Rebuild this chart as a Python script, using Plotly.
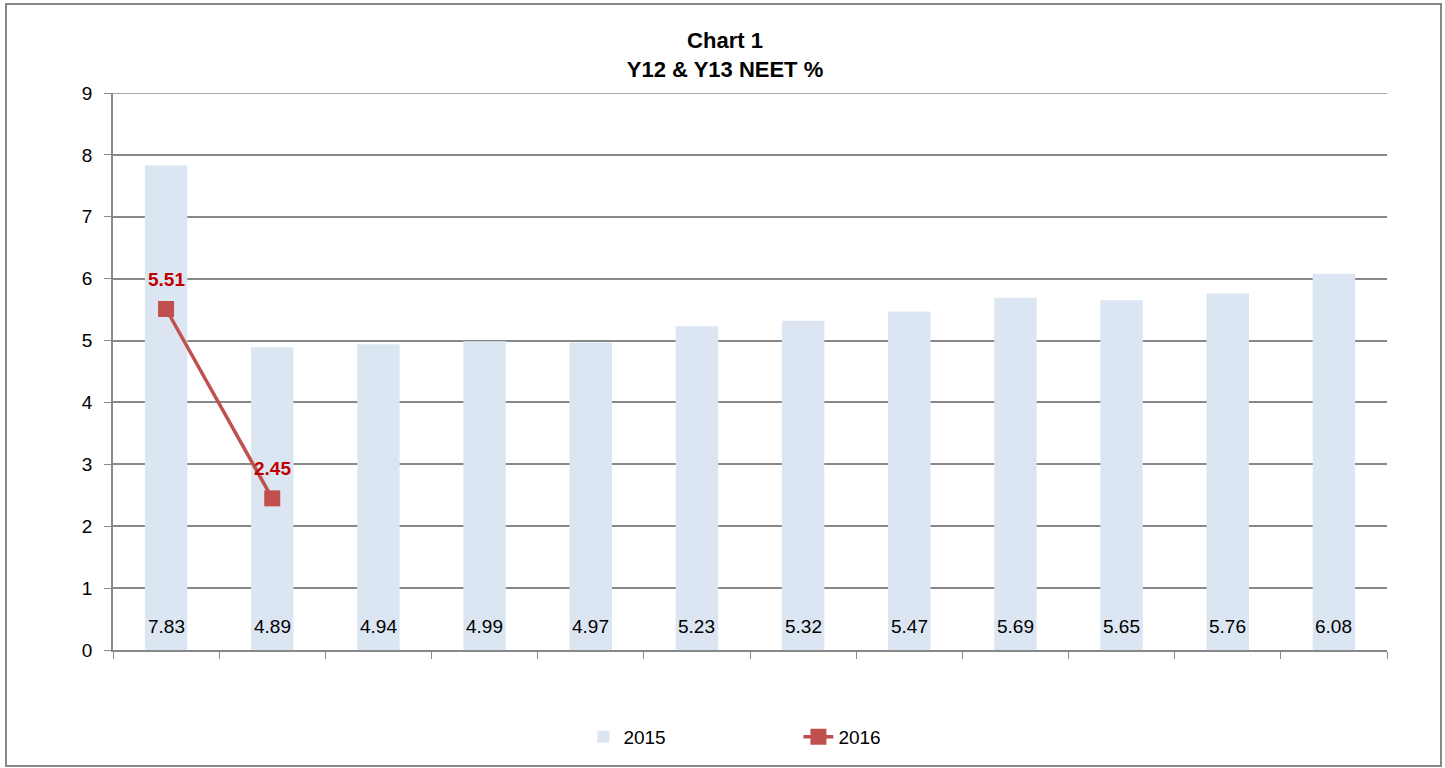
import plotly.graph_objects as go

categories = ["1", "2", "3", "4", "5", "6", "7", "8", "9", "10", "11", "12"]
values_2015 = [7.83, 4.89, 4.94, 4.99, 4.97, 5.23, 5.32, 5.47, 5.69, 5.65, 5.76, 6.08]
values_2016 = [5.51, 2.45, None, None, None, None, None, None, None, None, None, None]
y_ticks = [0, 1, 2, 3, 4, 5, 6, 7, 8, 9]

FONT = "Liberation Sans"

fig = go.Figure()
fig.add_trace(go.Bar(
    x=categories, y=values_2015, name="2015",
    marker=dict(color="#DCE6F2", line=dict(width=0)),
))
fig.add_trace(go.Scatter(
    x=categories, y=values_2016, name="2016",
    mode="lines+markers",
    line=dict(color="#C0504D", width=3.5),
    marker=dict(symbol="square", size=16, color="#C0504D"),
    cliponaxis=False,
))

annotations = [
    dict(x=i, y=0, xref="x", yref="y", text=f"{v:.2f}", showarrow=False,
         yanchor="bottom", yshift=11, font=dict(family=FONT, size=19, color="#000000"))
    for i, v in enumerate(values_2015)
]
annotations += [
    dict(x=i, y=v, xref="x", yref="y", text=f"<b>{v:.2f}</b>", showarrow=False,
         yanchor="bottom", yshift=17, font=dict(family=FONT, size=19, color="#C00000"))
    for i, v in enumerate(values_2016) if v is not None
]

fig.update_layout(
    width=1445, height=768,
    margin=dict(l=113, r=58, t=93, b=118),
    paper_bgcolor="white", plot_bgcolor="white",
    font=dict(family=FONT, color="#000000"),
    title=dict(text="<b>Chart 1<br>Y12 & Y13 NEET %</b>", x=725 / 1445,
               xanchor="center", y=1 - 48 / 768, yanchor="top",
               font=dict(family=FONT, size=22, color="#000000")),
    bargap=0.6,
    showlegend=True,
    legend=dict(orientation="h", x=0.538, xanchor="center", y=-0.156, yanchor="middle",
                font=dict(family=FONT, size=19, color="#000000"), entrywidth=170,
                traceorder="normal"),
    xaxis=dict(type="category", showticklabels=False, ticks="outside", tickson="boundaries",
               ticklen=7, tickcolor="#888888", showline=True, linecolor="#888888", linewidth=1.5,
               showgrid=False, zeroline=False, range=[-0.5, len(categories) - 0.5]),
    yaxis=dict(range=[0, 9], tickvals=y_ticks, ticks="outside", ticklen=7, tickcolor="#888888",
               showline=True, linecolor="#888888", linewidth=1.5, showgrid=True,
               gridcolor="#888888", gridwidth=1.5, zeroline=False, ticklabelstandoff=8,
               tickfont=dict(family=FONT, size=19, color="#000000")),
    annotations=annotations,
    shapes=[
        dict(type="rect", xref="paper", yref="paper",
             x0=(6 - 113) / 1274, x1=(1441 - 113) / 1274,
             y0=(650 - 766) / 557, y1=(650 - 4) / 557,
             line=dict(color="#888888", width=2), fillcolor="rgba(0,0,0,0)", layer="below"),
        dict(type="line", xref="paper", yref="y", x0=0, x1=1, y0=max(y_ticks), y1=max(y_ticks),
             line=dict(color="#888888", width=1.5), layer="below"),
    ],
)

fig.write_html("out.html", post_script="document.body.style.margin='0';",
               config={"displayModeBar": False})
